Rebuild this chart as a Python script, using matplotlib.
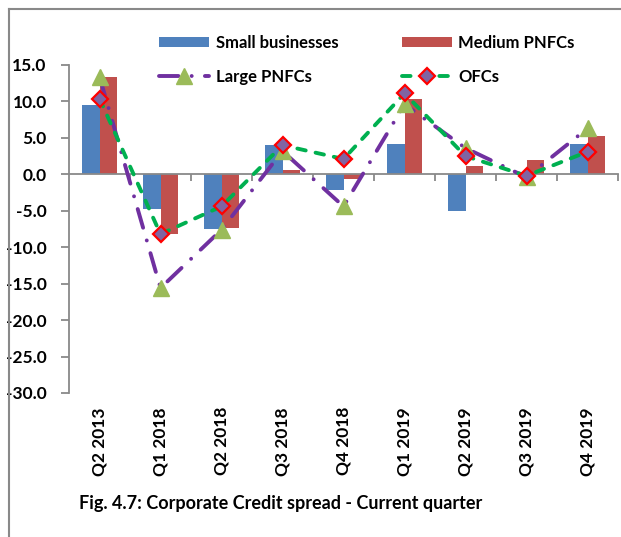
import matplotlib
matplotlib.use('Agg')
import matplotlib.pyplot as plt
from matplotlib.lines import Line2D
from matplotlib.transforms import blended_transform_factory
import numpy as np

categories = ['Q2 2013', 'Q1 2018', 'Q2 2018', 'Q3 2018', 'Q4 2018',
              'Q1 2019', 'Q2 2019', 'Q3 2019', 'Q4 2019']
small_businesses = [9.5, -4.7, -7.5, 4.0, -2.2, 4.2, -5.0, 0.0, 4.1]
medium_pnfcs = [13.3, -8.2, -7.3, 0.6, -0.6, 10.4, 1.1, 2.0, 5.2]
large_pnfcs = [13.4, -15.6, -7.6, 3.2, -4.4, 9.6, 3.6, -0.4, 6.3]
ofcs = [10.4, -8.2, -4.4, 4.0, 2.1, 11.1, 2.5, -0.2, 3.1]
yticks = [15, 10, 5, 0, -5, -10, -15, -20, -25, -30]
caption = 'Fig. 4.7: Corporate Credit spread - Current quarter'

plt.rcParams['font.family'] = ['Lato', 'DejaVu Sans']
plt.rcParams['font.weight'] = 'bold'

W, H = 621, 537
fig = plt.figure(figsize=(W / 100, H / 100), dpi=100)
ax = fig.add_axes([69 / W, 1 - 393 / H, (618 - 69) / W, (393 - 65) / H])

x = np.arange(len(categories))
bw = 0.285
b1 = ax.bar(x - bw / 2, small_businesses, bw, color='#4F81BD', zorder=2)
b2 = ax.bar(x + bw / 2, medium_pnfcs, bw, color='#C0504D', zorder=2)
l1, = ax.plot(x, large_pnfcs, color='#7030A0', lw=2.8, dashes=(5, 3.4, 0.01, 3.4),
              dash_capstyle='round', marker='^', ms=11, mfc='#9BBB59', mec='#9BBB59',
              zorder=3)
l2, = ax.plot(x, ofcs, color='#00B050', lw=2.8, dashes=(2.2, 2.6),
              dash_capstyle='round', marker='D', ms=8.5, mfc='#8064A2', mec='#FF0000',
              mew=1.6, zorder=4)

ax.set_xlim(-0.5, len(categories) - 0.5)
ax.set_ylim(-30, 15)
ax.set_yticks(yticks)
ax.set_yticklabels([f'{v:.1f}' for v in yticks])
ax.set_xticks(np.arange(0.5, len(categories), 1.0))
ax.set_xticklabels([])

for s in ['top', 'right']:
    ax.spines[s].set_visible(False)
ax.spines['bottom'].set_position(('data', 0))
ax.spines['bottom'].set_color('#898989')
ax.spines['left'].set_color('#898989')
ax.spines['bottom'].set_linewidth(1.3)
ax.spines['left'].set_linewidth(1.3)
ax.tick_params(axis='x', direction='out', length=5, width=1.3, color='#898989')
ax.tick_params(axis='y', direction='out', length=6, width=1.3, color='#898989',
               labelsize=12.5, pad=10)

tr = blended_transform_factory(ax.transData, fig.transFigure)
for i, c in enumerate(categories):
    ax.text(i, 1 - 407 / H, c, transform=tr, rotation=90, ha='center', va='top',
            fontsize=12.5, fontweight='bold')

leg = fig.legend([b1, l1, b2, l2],
                 ['Small businesses', 'Large PNFCs', 'Medium PNFCs', 'OFCs'],
                 ncol=2, loc='upper left', bbox_to_anchor=(159 / W, 1 - 35 / H),
                 frameon=False, borderpad=0, borderaxespad=0, fontsize=12,
                 handlelength=3.0, handleheight=0.55, handletextpad=0.4,
                 columnspacing=3.8, labelspacing=1.07, numpoints=1)

fig.text(79 / W, 1 - 503 / H, caption, ha='left', va='center', fontsize=13,
         fontweight='bold')

fig.add_artist(Line2D([9 / W, 9 / W], [0, 1 - 9 / H], color='#898989', lw=1.5))
fig.add_artist(Line2D([9 / W, 1], [1 - 9 / H, 1 - 9 / H], color='#898989', lw=1.5))

fig.savefig('out.png', dpi=100)
